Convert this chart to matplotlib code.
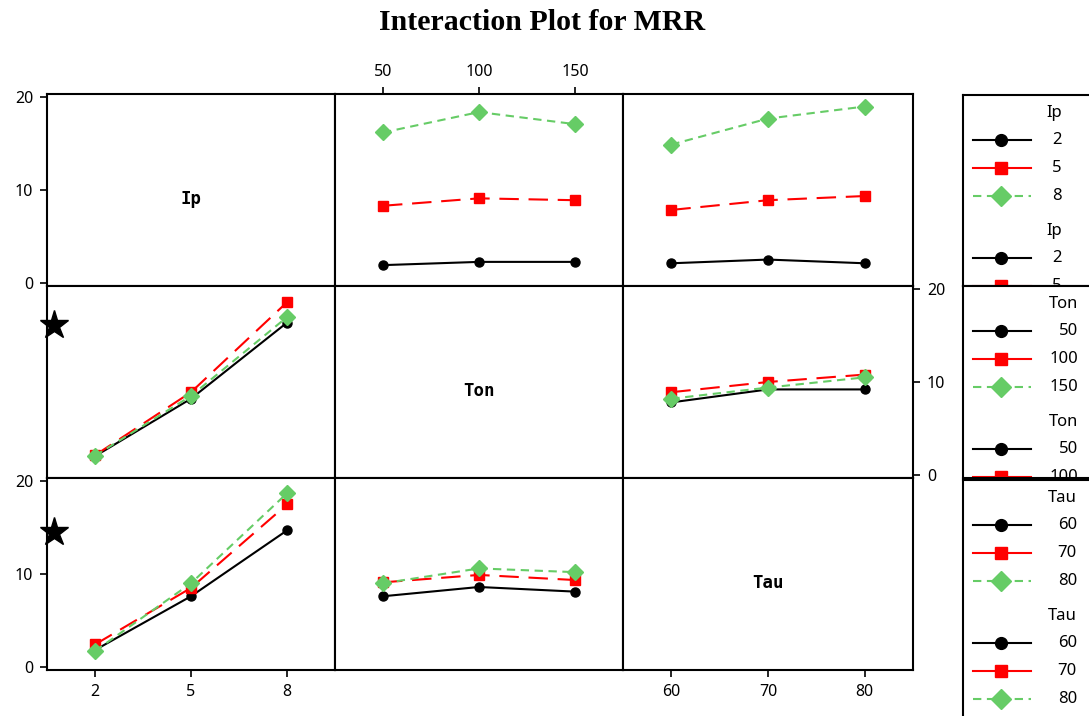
import numpy as np
import matplotlib
matplotlib.use("Agg")
import matplotlib.pyplot as plt
from matplotlib.lines import Line2D

# factor levels
factors = ["Ip", "Ton", "Tau"]
ip_levels = [2, 5, 8]
ton_levels = [50, 100, 150]
tau_levels = [60, 70, 80]

# mean MRR, rows = line factor levels, cols = x factor levels
ip_by_ton = [[1.9, 2.25, 2.25], [8.3, 9.1, 8.9], [16.2, 18.4, 17.1]]
ip_by_tau = [[2.1, 2.5, 2.1], [7.85, 8.9, 9.35], [14.9, 17.7, 19.0]]
ton_by_ip = [[2.0, 8.2, 16.4], [2.1, 8.9, 18.6], [2.05, 8.5, 17.0]]
ton_by_tau = [[7.8, 9.2, 9.2], [8.9, 10.0, 10.8], [8.2, 9.4, 10.5]]
tau_by_ip = [[1.8, 7.6, 14.7], [2.4, 8.5, 17.5], [1.7, 9.0, 18.7]]
tau_by_ton = [[7.6, 8.6, 8.1], [9.1, 9.9, 9.35], [9.0, 10.6, 10.2]]

# significant interactions marked with a star (row, y value)
star_rows = [1, 2]
star_vals = [16.1, 14.5]

levels = [ip_levels, ton_levels, tau_levels]
means = {(0, 1): ip_by_ton, (0, 2): ip_by_tau,
         (1, 0): ton_by_ip, (1, 2): ton_by_tau,
         (2, 0): tau_by_ip, (2, 1): tau_by_ton}

plt.rcParams["lines.scale_dashes"] = False
W, H = 1089, 716
fig = plt.figure(figsize=(W / 100, H / 100), dpi=100)
tick_font = dict(family="Noto Sans", size=11.5)


def box(x0, y0, x1, y1):
    return [x0 / W, 1 - y1 / H, (x1 - x0) / W, (y1 - y0) / H]


green = "#66CC66"
styles = [dict(color="black", ls="-", marker="o", ms=6.5),
          dict(color="#FF0000", ls=(0, (14, 7)), marker="s", ms=7),
          dict(color=green, ls=(0, (6, 4)), marker="D", ms=8.5)]

col_x = [47, 335, 623, 913]
row_y = [94, 286, 478, 670]
xlims = [(0.5, 9.5), (25, 175), (55, 85)]

axes = {}
for r in range(3):
    for c in range(3):
        ax = fig.add_axes(box(col_x[c], row_y[r], col_x[c + 1], row_y[r + 1]))
        ax.set_xlim(*xlims[c])
        ax.set_ylim(-0.35, 20.35)
        for s in ax.spines.values():
            s.set_linewidth(1.5)
        ax.set_xticks([])
        ax.set_yticks([])
        ax.tick_params(length=5, width=1.2, direction="out", pad=5)
        axes[(r, c)] = ax
        if r == c:
            ax.text(0.5, 0.455, factors[r], transform=ax.transAxes, ha="center",
                    va="center", family="DejaVu Sans Mono", weight="bold",
                    size=12.5)
            continue
        for k, vals in enumerate(means[(r, c)]):
            st = styles[k]
            ax.plot(levels[c], vals, color=st["color"], ls=st["ls"], lw=1.5,
                    marker=st["marker"], ms=st["ms"], mec=st["color"],
                    mfc=st["color"])

# ticks like the Minitab matrix layout
for r in (0, 2):
    ax = axes[(r, 0)]
    ax.set_yticks([0, 10, 20])
    ax.set_yticklabels(["0", "10", "20"], fontdict=tick_font)
ax = axes[(1, 2)]
ax.yaxis.tick_right()
ax.set_yticks([0, 10, 20])
ax.set_yticklabels(["0", "10", "20"], fontdict=tick_font)
ax = axes[(0, 1)]
ax.xaxis.tick_top()
ax.set_xticks(ton_levels)
ax.set_xticklabels([str(v) for v in ton_levels], fontdict=tick_font)
for c in (0, 2):
    ax = axes[(2, c)]
    ax.set_xticks(levels[c])
    ax.set_xticklabels([str(v) for v in levels[c]], fontdict=tick_font)

for r, v in zip(star_rows, star_vals):
    axes[(r, 0)].plot([0.72], [v], marker="*", ms=21, color="black",
                      clip_on=False, zorder=5)

# legends (two copies each, clipped by the box)
leg_boxes = [(95, 286), (286, 478), (480, 740)]
label_right = [1062, 1078, 1077]
for i, (top, bot) in enumerate(leg_boxes):
    lax = fig.add_axes(box(963, top, 1100, bot))
    lax.set_xlim(963, 1100)
    lax.set_ylim(bot, top)
    lax.set_xticks([])
    lax.set_yticks([])
    for s in lax.spines.values():
        s.set_linewidth(1.5)
    y = top + 18
    for rep in range(2):
        lax.text(label_right[i], y, factors[i], ha="right", va="center",
                 family="Noto Sans", size=12, clip_on=True)
        y += 27
        for k, lv in enumerate(levels[i]):
            st = styles[k]
            lax.add_line(Line2D([973, 1031], [y, y], color=st["color"], lw=1.5,
                                ls=st["ls"] if k == 2 else "-"))
            lax.plot([1001], [y], marker=st["marker"], ms=st["ms"] + 2,
                     color=st["color"], ls="none")
            if y - 8 < bot:
                lax.text(label_right[i], y, str(lv), ha="right", va="center",
                         family="Noto Sans", size=12, clip_on=True)
            y += 28
        y += 7

fig.text(542 / W, 1 - 23 / H, "Interaction Plot for MRR", ha="center",
         va="center", family="Liberation Serif", weight="bold", size=21.5)

fig.savefig("out.png", dpi=100)
